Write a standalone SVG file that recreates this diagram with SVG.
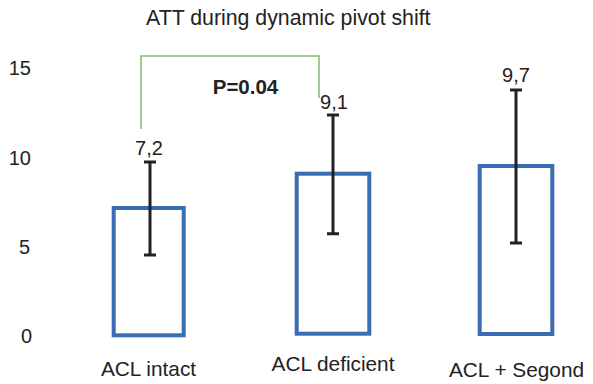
<svg xmlns="http://www.w3.org/2000/svg" width="593" height="384" viewBox="0 0 593 384">
<style>
text{font-family:"Liberation Sans",Arial,sans-serif;fill:#222;}
.t{font-size:21.3px;}
.ax{font-size:20px;text-anchor:end;}
.v{font-size:20px;text-anchor:middle;}
.c{font-size:20.8px;text-anchor:middle;}
.bar{fill:none;stroke:#3b6db4;stroke-width:4;}
.err{fill:none;stroke:#222;stroke-width:3;}
.br{fill:none;stroke:#7dbf6e;stroke-width:1.5;}
</style>
<rect width="593" height="384" fill="#fff"/>
<text class="t" x="288.3" y="25" text-anchor="middle">ATT during dynamic pivot shift</text>
<g id="axis">
<text class="ax" x="31" y="75">15</text>
<text class="ax" x="31" y="165">10</text>
<text class="ax" x="30" y="254">5</text>
<text class="ax" x="32" y="343">0</text>
</g>
<g id="bar-intact">
<rect class="bar" x="113.7" y="208" width="70" height="127.3"/>
<text class="v" x="149" y="154.5">7,2</text>
<text class="c" x="148.5" y="375.5">ACL intact</text>
</g>
<g id="bar-deficient">
<rect class="bar" x="296.7" y="173.7" width="72.6" height="160"/>
<text class="v" x="334" y="108.5">9,1</text>
<text class="c" x="333" y="371">ACL deficient</text>
</g>
<g id="bar-segond">
<rect class="bar" x="479.7" y="166" width="72.6" height="168"/>
<text class="v" x="516" y="81.5">9,7</text>
<text class="c" x="516.5" y="376.5">ACL + Segond</text>
</g>
<g id="connectors">
<path class="err" d="M150 162V255M144 162H156M144 255H156"/>
<path class="err" d="M333 115V233.7M327 115H339M327 233.7H339"/>
<path class="err" d="M516 90V243M510 90H522M510 243H522"/>
<polyline class="br" points="141,129 141,56 319,56 319,98"/>
</g>
<text x="245.5" y="94.3" font-size="20.5" font-weight="bold" text-anchor="middle">P=0.04</text>
</svg>
